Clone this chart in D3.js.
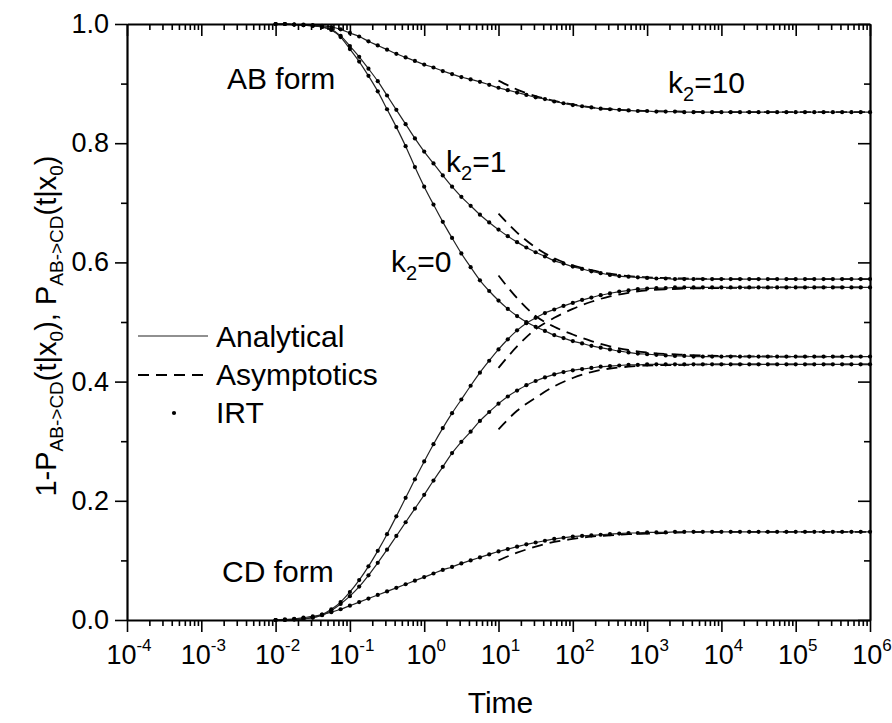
<!DOCTYPE html>
<html>
<head>
<meta charset="utf-8">
<script src="https://cdn.jsdelivr.net/npm/d3@7"></script>
<style>
  body { margin: 0; background: #fff; }
  text { font-family: "Liberation Sans", Arial, sans-serif; fill: #000; }
</style>
</head>
<body>
<div id="okvir"></div>
<script>
// log10(time) grid of the IRT / analytical samples
const logT = [
  -2, -1.875, -1.75, -1.625, -1.5, -1.375, -1.25, -1.125,
  -1, -0.875, -0.75, -0.625, -0.5, -0.375, -0.25, -0.125,
  0, 0.125, 0.25, 0.375, 0.5, 0.625, 0.75, 0.875,
  1, 1.125, 1.25, 1.375, 1.5, 1.625, 1.75, 1.875,
  2, 2.125, 2.25, 2.375, 2.5, 2.625, 2.75, 2.875,
  3, 3.125, 3.25, 3.375, 3.5, 3.625, 3.75, 3.875,
  4, 4.125, 4.25, 4.375, 4.5, 4.625, 4.75, 4.875,
  5, 5.125, 5.25, 5.375, 5.5, 5.625, 5.75, 5.875, 6
]

// AB form, 1-P(t|x0)
const abK0 = [
  1.000, 1.000, 0.999, 0.998, 0.997, 0.995, 0.990, 0.978,
  0.958, 0.937, 0.913, 0.887, 0.857, 0.827, 0.795, 0.760,
  0.727, 0.697, 0.668, 0.641, 0.615, 0.592, 0.570, 0.552,
  0.536, 0.522, 0.510, 0.500, 0.492, 0.485, 0.478, 0.473,
  0.468, 0.464, 0.460, 0.457, 0.454, 0.451, 0.449, 0.447,
  0.446, 0.445, 0.444, 0.443, 0.443, 0.442, 0.442, 0.442,
  0.442, 0.442, 0.442, 0.442, 0.442, 0.442, 0.442, 0.442,
  0.442, 0.442, 0.442, 0.442, 0.442, 0.442, 0.442, 0.442, 0.442
]
const abK1 = [
  1.000, 1.000, 0.999, 0.998, 0.997, 0.995, 0.991, 0.980,
  0.963, 0.945, 0.925, 0.904, 0.880, 0.856, 0.832, 0.808,
  0.786, 0.766, 0.746, 0.727, 0.710, 0.695, 0.680, 0.667,
  0.655, 0.644, 0.634, 0.625, 0.617, 0.610, 0.603, 0.598,
  0.593, 0.589, 0.585, 0.582, 0.579, 0.577, 0.576, 0.575,
  0.574, 0.573, 0.573, 0.572, 0.572, 0.572, 0.572, 0.572,
  0.572, 0.572, 0.572, 0.572, 0.572, 0.572, 0.572, 0.572,
  0.572, 0.572, 0.572, 0.572, 0.572, 0.572, 0.572, 0.572, 0.572
]
const abK10 = [
  1.000, 1.000, 0.999, 0.999, 0.998, 0.997, 0.995, 0.991,
  0.985, 0.979, 0.971, 0.964, 0.957, 0.950, 0.944, 0.938,
  0.932, 0.927, 0.921, 0.916, 0.911, 0.907, 0.903, 0.898,
  0.893, 0.889, 0.885, 0.881, 0.877, 0.874, 0.870, 0.867,
  0.864, 0.862, 0.860, 0.858, 0.857, 0.856, 0.855, 0.854,
  0.854, 0.853, 0.853, 0.853, 0.852, 0.852, 0.852, 0.852,
  0.852, 0.852, 0.852, 0.852, 0.852, 0.852, 0.852, 0.852,
  0.852, 0.852, 0.852, 0.852, 0.852, 0.852, 0.852, 0.852, 0.852
]

// CD form, P(t|x0)
const cdK0 = [
  0.000, 0.000, 0.001, 0.002, 0.004, 0.009, 0.018, 0.030,
  0.047, 0.067, 0.090, 0.116, 0.144, 0.174, 0.205, 0.236,
  0.266, 0.295, 0.322, 0.347, 0.370, 0.393, 0.415, 0.435,
  0.454, 0.471, 0.486, 0.498, 0.507, 0.515, 0.521, 0.527,
  0.532, 0.537, 0.541, 0.545, 0.548, 0.551, 0.553, 0.555,
  0.556, 0.557, 0.557, 0.558, 0.558, 0.558, 0.558, 0.558,
  0.558, 0.558, 0.558, 0.558, 0.558, 0.558, 0.558, 0.558,
  0.558, 0.558, 0.558, 0.558, 0.558, 0.558, 0.558, 0.558, 0.558
]
const cdK1 = [
  0.000, 0.000, 0.001, 0.002, 0.004, 0.008, 0.016, 0.027,
  0.040, 0.056, 0.075, 0.096, 0.118, 0.141, 0.164, 0.187,
  0.210, 0.234, 0.257, 0.280, 0.299, 0.316, 0.334, 0.349,
  0.363, 0.375, 0.385, 0.394, 0.401, 0.407, 0.412, 0.416,
  0.419, 0.421, 0.423, 0.425, 0.426, 0.427, 0.428, 0.428,
  0.429, 0.429, 0.429, 0.429, 0.429, 0.429, 0.429, 0.429,
  0.429, 0.429, 0.429, 0.429, 0.429, 0.429, 0.429, 0.429,
  0.429, 0.429, 0.429, 0.429, 0.429, 0.429, 0.429, 0.429, 0.429
]
const cdK10 = [
  0.000, 0.001, 0.002, 0.004, 0.006, 0.009, 0.013, 0.018,
  0.024, 0.030, 0.036, 0.042, 0.048, 0.054, 0.060, 0.066,
  0.072, 0.078, 0.084, 0.089, 0.095, 0.100, 0.105, 0.110,
  0.115, 0.119, 0.123, 0.127, 0.130, 0.133, 0.136, 0.138,
  0.140, 0.141, 0.142, 0.143, 0.144, 0.145, 0.146, 0.146,
  0.147, 0.147, 0.147, 0.148, 0.148, 0.148, 0.148, 0.148,
  0.148, 0.148, 0.148, 0.148, 0.148, 0.148, 0.148, 0.148,
  0.148, 0.148, 0.148, 0.148, 0.148, 0.148, 0.148, 0.148, 0.148
]

// long-time asymptotics, from t = 10
const asymLogT = [1, 1.25, 1.5, 1.75, 2, 2.25, 2.5, 2.75, 3, 3.5, 4, 5, 6]
const abK0Asym  = [0.578, 0.540, 0.510, 0.492, 0.479, 0.468, 0.459, 0.453, 0.449, 0.445, 0.443, 0.442, 0.442]
const abK1Asym  = [0.682, 0.650, 0.625, 0.607, 0.595, 0.587, 0.581, 0.577, 0.575, 0.573, 0.572, 0.572, 0.572]
const abK10Asym = [0.905, 0.890, 0.879, 0.871, 0.865, 0.860, 0.857, 0.855, 0.854, 0.853, 0.852, 0.852, 0.852]
const cdK0Asym  = [0.423, 0.459, 0.488, 0.507, 0.522, 0.534, 0.543, 0.549, 0.553, 0.556, 0.557, 0.558, 0.558]
const cdK1Asym  = [0.320, 0.351, 0.373, 0.392, 0.406, 0.416, 0.422, 0.425, 0.427, 0.428, 0.429, 0.429, 0.429]
const cdK10Asym = [0.100, 0.113, 0.123, 0.131, 0.136, 0.140, 0.142, 0.144, 0.145, 0.147, 0.148, 0.148, 0.148]

const xTickExp = [-4, -3, -2, -1, 0, 1, 2, 3, 4, 5, 6]
const yTicks = [0, 0.2, 0.4, 0.6, 0.8, 1.0]
const yMinor = [0.1, 0.3, 0.5, 0.7, 0.9]

const seriesAnal = [abK0, abK1, abK10, cdK0, cdK1, cdK10]
const seriesAsym = [abK0Asym, abK1Asym, abK10Asym, cdK0Asym, cdK1Asym, cdK10Asym]

function crtaj() {
  const dim = {
    sirina: 892,
    visina: 723,
    margine: { top: 24, right: 22, bottom: 103, left: 127 }
  }
  dim.grSirina = dim.sirina - dim.margine.left - dim.margine.right
  dim.grVisina = dim.visina - dim.margine.top - dim.margine.bottom

  const svg = d3.select("#okvir").append("svg")
    .attr("width", dim.sirina)
    .attr("height", dim.visina)

  const g = svg.append("g")
    .attr("transform", `translate(${dim.margine.left},${dim.margine.top})`)

  const xSkala = d3.scaleLog()
    .domain([1e-4, 1e6])
    .range([0, dim.grSirina])
  const ySkala = d3.scaleLinear()
    .domain([0, 1])
    .range([dim.grVisina, 0])

  const pts = (ts, vs) => ts.map((e, i) => ({ t: Math.pow(10, e), v: vs[i] }))

  const linija = d3.line()
    .x(d => xSkala(d.t))
    .y(d => ySkala(d.v))
    .curve(d3.curveMonotoneX)

  // asymptotics (dashed)
  seriesAsym.forEach(s => {
    g.append("path")
      .attr("d", linija(pts(asymLogT, s)))
      .attr("fill", "none")
      .attr("stroke", "#000")
      .attr("stroke-width", 1.8)
      .attr("stroke-dasharray", "11,7")
  })

  // analytical (thin solid)
  seriesAnal.forEach(s => {
    g.append("path")
      .attr("d", linija(pts(logT, s)))
      .attr("fill", "none")
      .attr("stroke", "#222")
      .attr("stroke-width", 1.2)
  })

  // IRT points
  seriesAnal.forEach(s => {
    g.append("g").selectAll("circle")
      .data(pts(logT, s))
      .join("circle")
      .attr("cx", d => xSkala(d.t))
      .attr("cy", d => ySkala(d.v))
      .attr("r", 2.1)
      .attr("fill", "#000")
  })

  // axes
  const majorX = xTickExp.map(e => Math.pow(10, e))
  const minorX = []
  xTickExp.slice(0, -1).forEach(e => {
    for (let k = 2; k <= 9; k++) minorX.push(k * Math.pow(10, e))
  })

  const osi = [
    { gen: d3.axisBottom(xSkala), tr: `translate(0,${dim.grVisina})`, maj: majorX, min: minorX, s: 12, sm: 6 },
    { gen: d3.axisTop(xSkala), tr: "translate(0,0)", maj: majorX, min: minorX, s: -12, sm: -6 },
    { gen: d3.axisLeft(ySkala), tr: "translate(0,0)", maj: yTicks, min: yMinor, s: 12, sm: 6 },
    { gen: d3.axisRight(ySkala), tr: `translate(${dim.grSirina},0)`, maj: yTicks, min: yMinor, s: -12, sm: -6 }
  ]
  osi.forEach(o => {
    const gm = g.append("g").attr("transform", o.tr)
      .call(o.gen.tickValues(o.min).tickSize(o.sm).tickSizeOuter(0).tickFormat(""))
    gm.select(".domain").remove()
    gm.selectAll("line").attr("stroke-width", 1.6)
    const gM = g.append("g").attr("transform", o.tr)
      .call(o.gen.tickValues(o.maj).tickSize(o.s).tickSizeOuter(0).tickFormat(""))
    gM.select(".domain").attr("stroke-width", 2.2)
    gM.selectAll("line").attr("stroke-width", 1.6)
  })

  // x tick labels 10^n
  const xl = g.append("g").selectAll("text")
    .data(xTickExp)
    .join("text")
    .attr("x", e => xSkala(Math.pow(10, e)) + 2)
    .attr("y", dim.grVisina + 44)
    .attr("text-anchor", "middle")
    .style("font-size", "27px")
  xl.append("tspan").text("10")
  xl.append("tspan").attr("dy", -13).style("font-size", "17px").text(e => e)

  // y tick labels
  g.append("g").selectAll("text")
    .data(yTicks)
    .join("text")
    .attr("x", -18)
    .attr("y", d => ySkala(d) + 9)
    .attr("text-anchor", "end")
    .style("font-size", "27px")
    .text(d3.format(".1f"))

  // axis titles
  svg.append("text")
    .attr("x", dim.margine.left + dim.grSirina / 2 + 2)
    .attr("y", 713)
    .attr("text-anchor", "middle")
    .style("font-size", "30px")
    .text("Time")

  const yl = svg.append("text")
    .attr("transform", "translate(56,326) rotate(-90)")
    .attr("text-anchor", "middle")
    .style("font-size", "29px")
  const dijelovi = [
    ["1-P", 0], ["AB->CD", 1], ["(t|x", 0], ["0", 1], ["), P", 0], ["AB->CD", 1], ["(t|x", 0], ["0", 1], [")", 0]
  ]
  let bilo = 0
  dijelovi.forEach(([txt, sub]) => {
    const dy = sub === bilo ? 0 : (sub ? 7 : -7)
    yl.append("tspan")
      .attr("dy", dy)
      .style("font-size", sub ? "19px" : "29px")
      .text(txt)
    bilo = sub
  })

  // annotations
  const oznake = [
    { t: "AB form", x: 227, y: 89 },
    { t: "CD form", x: 222, y: 582 }
  ]
  oznake.forEach(o => {
    svg.append("text").attr("x", o.x).attr("y", o.y)
      .style("font-size", "30px").text(o.t)
  })
  const kOznake = [
    { k: "10", x: 668, y: 93 },
    { k: "1", x: 446, y: 172 },
    { k: "0", x: 391, y: 272 }
  ]
  kOznake.forEach(o => {
    const t = svg.append("text").attr("x", o.x).attr("y", o.y).style("font-size", "30px")
    t.append("tspan").text("k")
    t.append("tspan").attr("dy", 8).style("font-size", "20px").text("2")
    t.append("tspan").attr("dy", -8).text("=" + o.k)
  })

  // legend
  const leg = svg.append("g")
  leg.append("line").attr("x1", 138).attr("x2", 208).attr("y1", 336).attr("y2", 336)
    .attr("stroke", "#222").attr("stroke-width", 1.2)
  leg.append("line").attr("x1", 138).attr("x2", 208).attr("y1", 375).attr("y2", 375)
    .attr("stroke", "#000").attr("stroke-width", 1.8).attr("stroke-dasharray", "11,7")
  leg.append("circle").attr("cx", 174).attr("cy", 413).attr("r", 2.1).attr("fill", "#000")
  const legTekst = ["Analytical", "Asymptotics", "IRT"]
  leg.selectAll("text").data(legTekst).join("text")
    .attr("x", 216)
    .attr("y", (d, i) => 347 + i * 38)
    .style("font-size", "30px")
    .text(d => d)
}
crtaj()
</script>
</body>
</html>
